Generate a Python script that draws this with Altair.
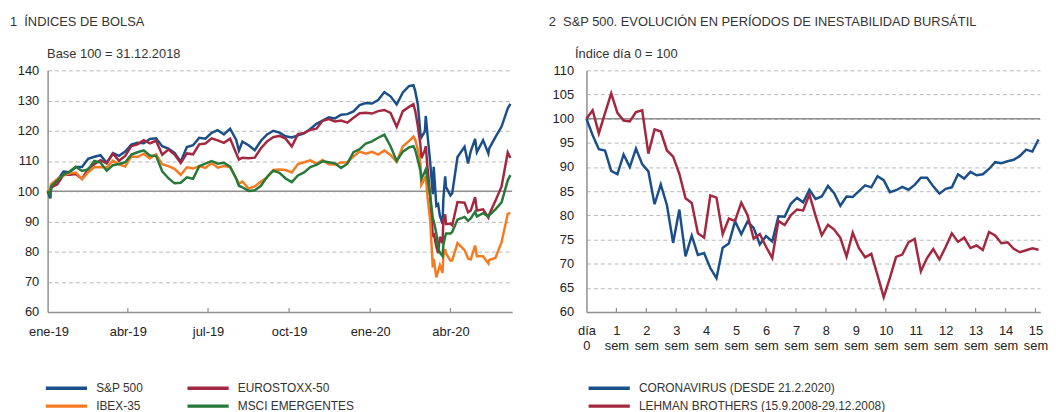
import json
import altair as alt
import pandas as pd

# ---------------- Panel 1: stock indices (base 100 = 31.12.2018) ----------------
DATES = [
    "2018-12-31", "2019-01-03", "2019-01-04", "2019-01-11", "2019-01-18", "2019-01-25",
    "2019-02-01", "2019-02-08", "2019-02-15", "2019-02-22", "2019-03-01", "2019-03-08",
    "2019-03-15", "2019-03-22", "2019-03-29", "2019-04-05", "2019-04-12", "2019-04-19",
    "2019-04-26", "2019-05-03", "2019-05-10", "2019-05-17", "2019-05-24", "2019-05-31",
    "2019-06-07", "2019-06-14", "2019-06-21", "2019-06-28", "2019-07-05", "2019-07-12",
    "2019-07-19", "2019-07-26", "2019-08-02", "2019-08-05", "2019-08-09", "2019-08-16",
    "2019-08-23", "2019-08-30", "2019-09-06", "2019-09-13", "2019-09-20", "2019-09-27",
    "2019-10-04", "2019-10-11", "2019-10-18", "2019-10-25", "2019-11-01", "2019-11-08",
    "2019-11-15", "2019-11-22", "2019-11-29", "2019-12-06", "2019-12-13", "2019-12-20",
    "2019-12-27", "2020-01-03", "2020-01-10", "2020-01-17", "2020-01-24", "2020-01-31",
    "2020-02-07", "2020-02-14", "2020-02-19", "2020-02-21", "2020-02-24", "2020-02-27",
    "2020-02-28", "2020-03-03", "2020-03-04", "2020-03-06", "2020-03-09", "2020-03-12",
    "2020-03-13", "2020-03-16", "2020-03-18", "2020-03-20", "2020-03-23", "2020-03-24",
    "2020-03-26", "2020-03-27", "2020-04-01", "2020-04-03", "2020-04-09", "2020-04-17",
    "2020-04-21", "2020-04-24", "2020-04-29", "2020-05-01", "2020-05-08", "2020-05-14",
    "2020-05-15", "2020-05-22", "2020-05-29", "2020-06-05", "2020-06-08",
]
SP500 = [
    100, 97.6, 101.0, 103.6, 106.5, 106.3,
    108.0, 108.0, 110.7, 111.4, 111.9, 109.4,
    112.6, 111.7, 113.1, 115.4, 116.0, 115.9,
    117.3, 117.5, 114.9, 114.1, 112.7, 109.8,
    114.6, 115.2, 117.7, 117.4, 119.3, 120.2,
    118.8, 120.7, 117.0, 113.4, 116.4, 115.2,
    113.6, 116.7, 118.8, 120.0, 119.4, 118.2,
    117.8, 118.5, 119.1, 120.6, 122.3, 123.4,
    124.5, 124.1, 125.3, 125.5, 126.4, 128.5,
    129.2, 129.0, 130.2, 132.8, 131.4, 128.7,
    132.7, 134.8, 135.1, 133.2, 128.7, 118.8,
    117.8, 119.8, 124.9, 118.6, 109.6, 99.0,
    108.1, 95.2, 95.7, 91.9, 89.2, 97.6,
    104.9, 101.4, 98.6, 99.3, 111.3, 114.7,
    109.2, 113.2, 117.3, 112.9, 116.9, 112.5,
    114.2, 117.9, 121.4, 127.4, 128.9,
]
EUROSTOXX = [
    100, 98.8, 101.3, 102.3, 105.4, 105.4,
    105.7, 104.1, 107.4, 108.9, 110.3, 109.2,
    112.4, 110.1, 111.7, 114.9, 115.5, 116.9,
    115.8, 116.7, 112.1, 113.8, 112.1, 109.3,
    112.5, 112.2, 115.5, 115.8, 117.5, 116.8,
    116.0, 117.4, 112.5, 110.5, 111.1, 110.9,
    111.1, 114.2, 116.5, 117.9, 118.3, 117.4,
    114.8, 118.9, 119.3, 120.3, 120.7, 123.3,
    123.9, 123.1, 123.4, 122.7, 124.3, 125.8,
    126.0, 125.7, 126.5, 126.9, 125.9, 121.3,
    126.5, 127.9, 128.8, 126.6, 121.6, 115.1,
    110.9, 113.6, 114.9, 107.7, 98.6, 84.8,
    86.2, 81.6, 79.5, 84.9, 82.8, 90.5,
    92.3, 89.1, 89.3, 88.7, 96.4, 96.2,
    93.0, 93.6, 98.0, 93.6, 94.0, 91.3,
    92.3, 96.8, 101.6, 112.8, 111.0,
]
IBEX = [
    100, 100.8, 102.3, 104.0, 105.2, 105.9,
    106.2, 104.0, 106.3, 107.9, 108.0, 107.8,
    110.1, 108.9, 108.2, 111.5, 111.3, 112.4,
    110.8, 112.2, 108.9, 108.3, 107.4, 105.4,
    107.9, 107.5, 108.3, 107.7, 109.3, 107.8,
    108.3, 108.0, 104.2, 102.5, 103.2, 100.9,
    101.6, 103.2, 104.5, 107.0, 107.2, 107.0,
    106.2, 109.0, 109.6, 110.2, 109.1, 110.3,
    108.9, 108.8, 109.5, 109.6, 111.5, 113.1,
    112.4, 113.0, 112.1, 113.5, 112.0, 109.7,
    114.9, 116.6, 118.1, 117.1, 113.7, 109.1,
    102.1, 104.3, 105.0, 98.1, 90.3, 74.8,
    77.6, 71.5, 73.5, 75.5, 73.0, 78.7,
    80.8, 79.4, 77.0, 77.1, 82.8, 80.5,
    77.7, 77.4, 82.0, 78.5, 78.5, 76.1,
    77.2, 77.9, 83.1, 92.5, 92.8,
]
MSCI_EM = [
    100, 98.8, 101.6, 103.6, 105.4, 106.5,
    108.1, 106.7, 107.2, 110.0, 109.5, 106.8,
    108.6, 109.0, 109.6, 112.1, 112.9, 113.5,
    111.8, 111.7, 106.6, 104.3, 102.6, 102.8,
    104.6, 104.1, 108.3, 109.1, 110.0, 109.1,
    109.4, 108.1, 104.1, 101.8, 101.3, 100.1,
    100.3, 101.8, 104.8, 106.8, 106.1, 104.2,
    103.0, 105.2, 106.2, 108.0, 108.7, 109.9,
    109.6, 109.2, 107.7, 109.1, 112.9, 113.9,
    115.8, 116.5, 117.7, 118.7, 114.9, 110.0,
    113.1, 114.5, 114.9, 113.7, 110.3, 106.7,
    104.1, 106.5, 107.2, 104.1, 98.4, 91.1,
    90.1, 86.0, 80.8, 79.7, 78.5, 82.3,
    84.9, 86.0, 86.0, 86.5, 90.6, 91.5,
    90.2, 91.0, 93.2, 91.6, 92.7, 91.6,
    92.0, 94.0, 96.3, 103.6, 105.3,
]
SERIES_LEFT = ["S&P 500", "EUROSTOXX-50", "IBEX-35", "MSCI EMERGENTES"]
COLORS_LEFT = ["#1b4f8a", "#a3283f", "#f47b20", "#27793a"]
X_DOMAIN_LEFT = ["2018-12-31", "2020-06-10"]
X_TICKS_LEFT = ["2019-01-01", "2019-04-01", "2019-07-01", "2019-10-01", "2020-01-01", "2020-04-01"]
MONTHS_ES = ["ene", "feb", "mar", "abr", "may", "jun", "jul", "ago", "sep", "oct", "nov", "dic"]
Y_TICKS_LEFT = [60, 70, 80, 90, 100, 110, 120, 130, 140]
TITLE_LEFT = "1\u00a0\u00a0ÍNDICES DE BOLSA"
SUB_LEFT = "Base 100 = 31.12.2018"

# ---------------- Panel 2: S&P 500 in stress episodes (day 0 = 100) ----------------
CORONA = [
    100, 96.6, 93.7, 93.4, 89.2, 88.5, 92.6, 90.0, 93.8, 90.6,
    89.1, 82.3, 86.4, 82.1, 74.3, 81.2, 71.5, 75.8, 71.8, 72.2,
    69.1, 67.0, 73.3, 74.2, 78.8, 76.1, 78.7, 77.4, 74.0, 75.7,
    74.6, 79.8, 79.7, 82.4, 83.6, 82.7, 85.3, 83.4, 83.9, 86.1,
    84.6, 82.0, 83.9, 83.8, 85.0, 86.2, 85.8, 88.1, 87.3, 84.8,
    85.2, 85.9, 85.3, 86.3, 87.8, 87.8, 86.0, 84.5, 85.5, 85.8,
    88.5, 87.6, 89.0, 88.3, 88.5, 89.6, 91.0, 90.8, 91.2, 91.5,
    92.3, 93.6, 93.2, 95.7,
]
LEHMAN = [
    100, 101.75, 96.96, 101.16, 105.23, 101.21, 99.62, 99.43, 101.38, 101.72,
    92.77, 97.79, 97.35, 93.42, 92.16, 88.61, 83.53, 82.58, 76.29, 75.39,
    84.12, 83.68, 76.12, 79.35, 78.86, 82.62, 80.07, 75.19, 76.14, 73.51,
    71.18, 78.86, 77.98, 79.99, 81.22, 81.02, 84.33, 79.88, 75.87, 78.06,
    77.07, 75.37, 71.46, 76.41, 73.22, 71.33, 72.03, 67.63, 63.09, 67.08,
    71.42, 71.89, 74.43, 75.14, 68.43, 71.17, 73.01, 70.87, 73.45, 76.27,
    74.51, 75.40, 73.24, 73.76, 72.82, 76.56, 75.83, 74.23, 74.44, 73.08,
    72.37, 72.79, 73.18, 72.89,
]
SERIES_RIGHT = ["CORONAVIRUS (DESDE 21.2.2020)", "LEHMAN BROTHERS (15.9.2008-29.12.2008)"]
COLORS_RIGHT = ["#1b4f8a", "#a3283f"]
Y_TICKS_RIGHT = [60, 65, 70, 75, 80, 85, 90, 95, 100, 105, 110]
WEEK_TOP = ["día"] + [str(k) for k in range(1, 16)]
WEEK_BOTTOM = ["0"] + ["sem"] * 15
IDX_PER_WEEK = 4.834
X_MAX_RIGHT = 73.25
TITLE_RIGHT = "2\u00a0\u00a0S&P 500. EVOLUCIÓN EN PERÍODOS DE INESTABILIDAD BURSÁTIL"
SUB_RIGHT = "Índice día 0 = 100"

for s in (SP500, EUROSTOXX, IBEX, MSCI_EM):
    assert len(s) == len(DATES)
assert len(CORONA) == len(LEHMAN)

# ---------------- styling ----------------
W_L, W_R, H = 469, 458, 244
FONT = "Liberation Sans, Arial, Helvetica, sans-serif"
NARROW = "Liberation Sans Narrow, Arial Narrow, Liberation Sans, sans-serif"
TXT = "#333333"
AXIS_GRAY = "#8f8f8f"
GRID_GRAY = "#b8b8b8"


def utc(s):
    y, m, d = map(int, s.split("-"))
    return alt.DateTime(year=y, month=m, date=d, utc=True)


left_df = pd.DataFrame({
    "fecha": DATES * 4,
    "serie": sum([[n] * len(DATES) for n in SERIES_LEFT], []),
    "valor": SP500 + EUROSTOXX + IBEX + MSCI_EM,
})

x_left = alt.X(
    "fecha:T",
    scale=alt.Scale(type="utc", domain=[utc(X_DOMAIN_LEFT[0]), utc(X_DOMAIN_LEFT[1])]),
    axis=alt.Axis(
        values=[utc(d) for d in X_TICKS_LEFT],
        labelExpr=f"{json.dumps(MONTHS_ES)}[utcmonth(datum.value)] + '-' + utcFormat(datum.value, '%y')",
        title=None, grid=False, tickSize=0, labelFlush=False, labelPadding=14,
        domainColor=AXIS_GRAY, domainWidth=1.5,
    ),
)
y_left = alt.Y(
    "valor:Q",
    scale=alt.Scale(domain=[60, 140], nice=False, zero=False),
    axis=alt.Axis(
        values=Y_TICKS_LEFT, grid=True, gridDash=[4, 3], gridColor=GRID_GRAY, gridWidth=1,
        tickSize=0, labelPadding=9, domainColor=AXIS_GRAY, domainWidth=1.5,
        title=SUB_LEFT, titleAngle=0, titleAlign="left", titleBaseline="alphabetic",
        titleX=-1, titleY=-13, titleFont=FONT, titleFontSize=13, titleFontWeight="normal",
        titleColor=TXT,
    ),
)

legend_common = dict(
    orient="none", direction="horizontal", title=None,
    symbolType="M-2.6,0H2.6", symbolSize=256, symbolStrokeWidth=3.5,
    labelFont=NARROW, labelFontSize=12, labelColor=TXT, labelOffset=20,
    rowPadding=1, labelLimit=400,
)

left_lines = alt.Chart(left_df).mark_line(strokeWidth=2.5).encode(
    x=x_left, y=y_left,
    color=alt.Color("serie:N", scale=alt.Scale(domain=SERIES_LEFT, range=COLORS_LEFT),
                    legend=alt.Legend(legendX=9, legendY=311, columns=2, columnPadding=37,
                                      gridAlign="each", **legend_common)),
)
left_base = alt.Chart(pd.DataFrame({"valor": [100]})).mark_rule(
    color=AXIS_GRAY, strokeWidth=1.5).encode(y=y_left)
left_ticks = alt.Chart(pd.DataFrame({"fecha": X_TICKS_LEFT[1:]})).mark_rule(
    color=AXIS_GRAY, strokeWidth=1.2).encode(x=x_left, y=alt.value(H - 4), y2=alt.value(H))
left_title = alt.Chart(pd.DataFrame({"t": [TITLE_LEFT]})).mark_text(
    align="left", baseline="alphabetic", font=FONT, fontSize=13, color=TXT).encode(
    text="t:N", x=alt.value(-38), y=alt.value(-45))

left = alt.layer(left_base, left_ticks, left_lines, left_title).properties(width=W_L, height=H)

# right panel
right_df = pd.DataFrame({
    "dia": list(range(len(CORONA))) * 2,
    "serie": [SERIES_RIGHT[0]] * len(CORONA) + [SERIES_RIGHT[1]] * len(LEHMAN),
    "valor": CORONA + LEHMAN,
})
WEEK_TICKS = [round(k * IDX_PER_WEEK, 3) for k in range(16)]
idx = f"round(datum.value / {IDX_PER_WEEK})"
x_right = alt.X(
    "dia:Q",
    scale=alt.Scale(domain=[0, X_MAX_RIGHT], nice=False, zero=False),
    axis=alt.Axis(
        values=WEEK_TICKS,
        labelExpr=f"[{json.dumps(WEEK_TOP)}[{idx}], {json.dumps(WEEK_BOTTOM)}[{idx}]]",
        title=None, grid=False, tickSize=0, labelFlush=False, labelPadding=13,
        labelLineHeight=14.5, domainColor=AXIS_GRAY, domainWidth=1.5,
    ),
)
y_right = alt.Y(
    "valor:Q",
    scale=alt.Scale(domain=[60, 110], nice=False, zero=False),
    axis=alt.Axis(
        values=Y_TICKS_RIGHT, grid=True, gridDash=[4, 3], gridColor=GRID_GRAY, gridWidth=1,
        tickSize=0, labelPadding=13, domainColor=AXIS_GRAY, domainWidth=1.5,
        title=SUB_RIGHT, titleAngle=0, titleAlign="left", titleBaseline="alphabetic",
        titleX=-12, titleY=-13, titleFont=FONT, titleFontSize=13, titleFontWeight="normal",
        titleColor=TXT,
    ),
)
right_lines = alt.Chart(right_df).mark_line(strokeWidth=2.5).encode(
    x=x_right, y=y_right,
    color=alt.Color("serie:N", scale=alt.Scale(domain=SERIES_RIGHT, range=COLORS_RIGHT),
                    legend=alt.Legend(legendX=13, legendY=311, columns=1, **legend_common)),
)
right_base = alt.Chart(pd.DataFrame({"valor": [100]})).mark_rule(
    color=AXIS_GRAY, strokeWidth=1.5).encode(y=y_right)
right_ticks = alt.Chart(pd.DataFrame({"dia": WEEK_TICKS[1:]})).mark_rule(
    color=AXIS_GRAY, strokeWidth=1.2).encode(x=x_right, y=alt.value(H - 4), y2=alt.value(H))
right_title = alt.Chart(pd.DataFrame({"t": [TITLE_RIGHT]})).mark_text(
    align="left", baseline="alphabetic", font=FONT, fontSize=13, color=TXT).encode(
    text="t:N", x=alt.value(-38), y=alt.value(-45))

right = alt.layer(right_base, right_ticks, right_lines, right_title).properties(width=W_R, height=H)

chart = (
    alt.hconcat(left, right, spacing=75, bounds="flush")
    .resolve_scale(color="independent")
    .resolve_legend(color="independent")
    .properties(padding={"left": 2, "top": 6, "right": 0, "bottom": 0})
    .configure(background="white")
    .configure_view(stroke=None)
    .configure_axis(labelFont=FONT, labelFontSize=13, labelColor="#222222")
)

chart.save("out.html", embed_options={"renderer": "svg", "actions": False})
